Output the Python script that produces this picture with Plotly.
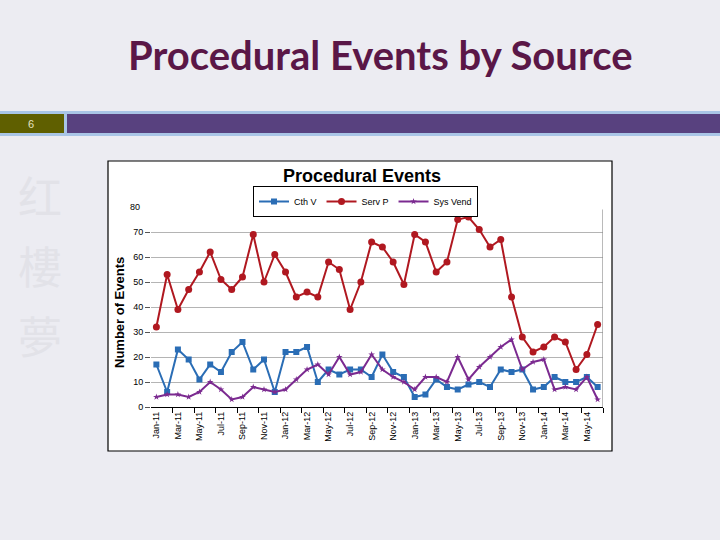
import plotly.graph_objects as go

months = ["Jan-11","Feb-11","Mar-11","Apr-11","May-11","Jun-11","Jul-11","Aug-11","Sep-11","Oct-11","Nov-11","Dec-11",
          "Jan-12","Feb-12","Mar-12","Apr-12","May-12","Jun-12","Jul-12","Aug-12","Sep-12","Oct-12","Nov-12","Dec-12",
          "Jan-13","Feb-13","Mar-13","Apr-13","May-13","Jun-13","Jul-13","Aug-13","Sep-13","Oct-13","Nov-13","Dec-13",
          "Jan-14","Feb-14","Mar-14","Apr-14","May-14","Jun-14"]

cth_v = [17, 6, 23, 19, 11, 17, 14, 22, 26, 15, 19, 6,
         22, 22, 24, 10, 15, 13, 15, 15, 12, 21, 14, 12,
         4, 5, 11, 8, 7, 9, 10, 8, 15, 14, 15, 7,
         8, 12, 10, 10, 12, 8]
serv_p = [32, 53, 39, 47, 54, 62, 51, 47, 52, 69, 50, 61,
          54, 44, 46, 44, 58, 55, 39, 50, 66, 64, 58, 49,
          69, 66, 54, 58, 75, 76, 71, 64, 67, 44, 28, 22,
          24, 28, 26, 15, 21, 33]
sys_vend = [4, 5, 5, 4, 6, 10, 7, 3, 4, 8, 7, 6,
            7, 11, 15, 17, 13, 20, 13, 14, 21, 15, 12, 10,
            7, 12, 12, 10, 20, 11, 16, 20, 24, 27, 15, 18,
            19, 7, 8, 7, 12, 3]

y_ticks = [0, 10, 20, 30, 40, 50, 60, 70]

W, H = 720, 540
ML, MR, MT, MB = 151, 117, 207, 133
PW, PH = W - ML - MR, H - MT - MB


def px(x):
    return (x - ML) / PW


def py(y):
    return (H - MB - y) / PH


idx = list(range(len(months)))
label_idx = idx[::2]
label_txt = [months[i] for i in label_idx]

fig = go.Figure()
fig.add_trace(go.Scatter(x=idx, y=cth_v, name="Cth V", mode="lines+markers",
                         line=dict(color="#2a6db5", width=2),
                         marker=dict(symbol="square", size=6, color="#2a6db5")))
fig.add_trace(go.Scatter(x=idx, y=serv_p, name="Serv P", mode="lines+markers",
                         line=dict(color="#b01820", width=2),
                         marker=dict(symbol="circle", size=7, color="#b01820")))
fig.add_trace(go.Scatter(x=idx, y=sys_vend, name="Sys Vend", mode="lines+markers",
                         line=dict(color="#7b2a90", width=2),
                         marker=dict(symbol="star", size=5, color="#7b2a90")))

shapes = [
    # header band
    dict(type="rect", xref="paper", yref="paper", x0=px(0), x1=px(720), y0=py(136), y1=py(111),
         fillcolor="#a9c5e6", line=dict(width=0), layer="below"),
    dict(type="rect", xref="paper", yref="paper", x0=px(0), x1=px(64), y0=py(133), y1=py(114),
         fillcolor="#5f5f00", line=dict(width=0), layer="below"),
    dict(type="rect", xref="paper", yref="paper", x0=px(67), x1=px(720), y0=py(133), y1=py(114),
         fillcolor="#58417f", line=dict(width=0), layer="below"),
    # chart box
    dict(type="rect", xref="paper", yref="paper", x0=px(108), x1=px(612), y0=py(451), y1=py(161),
         fillcolor="white", line=dict(color="black", width=1.2), layer="below"),
    # right plot border
    dict(type="line", xref="x", yref="y", x0=41.5, x1=41.5, y0=0, y1=79,
         line=dict(color="#8c8c8c", width=1.2)),
]

annotations = [
    dict(text="<b>Procedural Events by Source</b>", xref="paper", yref="paper",
         x=px(380), y=py(55), showarrow=False, xanchor="center", yanchor="middle",
         font=dict(family="Lato", size=40, color="#5a1747")),
    dict(text="6", xref="paper", yref="paper", x=px(31), y=py(124), showarrow=False,
         xanchor="center", yanchor="middle", font=dict(family="Liberation Sans", size=11, color="#e6e2c0")),
    dict(text="<b>Procedural Events</b>", xref="paper", yref="paper", x=px(362), y=py(176),
         showarrow=False, xanchor="center", yanchor="middle",
         font=dict(family="Liberation Sans", size=18, color="black")),
    dict(text="<b>Number of Events</b>", xref="paper", yref="paper", x=px(119), y=py(313),
         showarrow=False, xanchor="center", yanchor="middle", textangle=-90,
         font=dict(family="Liberation Sans", size=13, color="black")),
    dict(text="80", xref="paper", yref="y", x=px(142), y=80, showarrow=False,
         xanchor="right", yanchor="middle",
         font=dict(family="Liberation Sans", size=9, color="black")),
]
for ch, yy in [("红", 195), ("樓", 265), ("夢", 335)]:
    annotations.append(dict(text=ch, xref="paper", yref="paper", x=px(40), y=py(yy), showarrow=False,
                            xanchor="center", yanchor="middle",
                            font=dict(family="Noto Sans CJK SC", size=44, color="#e2e2e8")))

fig.update_layout(
    width=W, height=H,
    margin=dict(l=ML, r=MR, t=MT, b=MB, pad=0),
    paper_bgcolor="#ececf2",
    plot_bgcolor="white",
    font=dict(family="Liberation Sans", size=9, color="black"),
    shapes=shapes,
    annotations=annotations,
    showlegend=True,
    legend=dict(orientation="h", x=px(253), y=py(186), xanchor="left", yanchor="top",
                bgcolor="white", bordercolor="black", borderwidth=1,
                font=dict(family="Liberation Sans", size=9, color="black"),
                itemwidth=30, tracegroupgap=0, traceorder="normal"),
    xaxis=dict(range=[-0.5, 41.5], tickmode="array", tickvals=label_idx, ticktext=label_txt,
               tickangle=-90, ticks="", showgrid=False, zeroline=False,
               showline=True, linecolor="black", linewidth=1.2,
               tickfont=dict(family="Liberation Sans", size=9, color="black"),
               minor=dict(tickmode="array", tickvals=[i + 1.5 for i in range(0, 41, 2)],
                          ticks="outside", ticklen=5, tickcolor="black", tickwidth=1, showgrid=False)),
    yaxis=dict(range=[0, 80], tickmode="array", tickvals=y_ticks, ticks="outside", ticklen=5,
               tickcolor="#555555", showgrid=True, gridcolor="#b4b4b4", gridwidth=1,
               zeroline=False, showline=False,
               tickfont=dict(family="Liberation Sans", size=9, color="black")),
)

fig.write_html("out.html", config={"displayModeBar": False},
               post_script="document.body.style.margin='0';document.body.style.background='#ececf2';")
